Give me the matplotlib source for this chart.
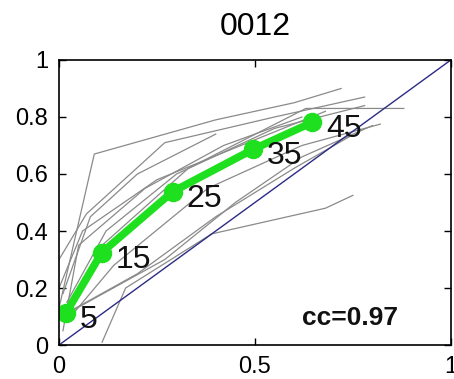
import matplotlib
matplotlib.use('Agg')
import matplotlib.pyplot as plt
import numpy as np

# mean curve (green) and its labels
mean_x = [0.018, 0.109, 0.29, 0.496, 0.646]
mean_y = [0.113, 0.324, 0.538, 0.687, 0.781]
mean_labels = ['5', '15', '25', '35', '45']

# individual curves (grey)
gray_x = [
    [0.00, 0.09, 0.40, 0.60, 0.72],
    [0.02, 0.11, 0.33, 0.63, 0.88],
    [0.03, 0.14, 0.38, 0.62, 0.82],
    [0.11, 0.17, 0.39, 0.68, 0.75],
    [0.01, 0.08, 0.20, 0.40],
    [0.00, 0.07, 0.27, 0.55, 0.78],
    [0.02, 0.12, 0.30, 0.55, 0.78],
    [0.02, 0.27, 0.45, 0.62, 0.80],
    [0.03, 0.20, 0.40, 0.60, 0.74],
    [0.01, 0.05, 0.22, 0.42, 0.62],
    [0.00, 0.06, 0.25, 0.50, 0.68],
]
gray_y = [
    [0.13, 0.67, 0.79, 0.85, 0.90],
    [0.12, 0.35, 0.62, 0.83, 0.83],
    [0.10, 0.28, 0.55, 0.70, 0.775],
    [0.01, 0.20, 0.39, 0.48, 0.525],
    [0.18, 0.45, 0.60, 0.74],
    [0.30, 0.46, 0.71, 0.80, 0.87],
    [0.15, 0.40, 0.60, 0.76, 0.84],
    [0.11, 0.30, 0.50, 0.66, 0.77],
    [0.12, 0.25, 0.45, 0.62, 0.73],
    [0.05, 0.35, 0.55, 0.70, 0.80],
    [0.20, 0.40, 0.58, 0.72, 0.82],
]

title = '0012'
cc_text = 'cc=0.97'
xticks = [0, 0.5, 1]
yticks = [0, 0.2, 0.4, 0.6, 0.8, 1]

plt.rcParams['font.family'] = ['Liberation Sans', 'DejaVu Sans']

fig = plt.figure(figsize=(4.54, 3.79), dpi=100)
ax = fig.add_axes([0.130, 0.0897, 0.863, 0.752])

for gx, gy in zip(gray_x, gray_y):
    ax.plot(gx, gy, color='#8a8a8a', lw=0.9)

ax.plot([0, 1], [0, 1], color='#2b2b85', lw=1.0)

ax.plot(mean_x, mean_y, color='#1ee01e', lw=5.5, marker='o', markersize=13,
        markeredgecolor='#1ee01e')

for x, y, lab in zip(mean_x, mean_y, mean_labels):
    ax.annotate(lab, (x, y), xytext=(10, -5), textcoords='offset points',
                ha='left', va='center', fontsize=23, color='#111111')

ax.text(0.865, 0.095, cc_text, transform=ax.transAxes, ha='right', va='center',
        fontsize=19, fontweight='bold', color='#111111')

ax.set_xlim(0, 1)
ax.set_ylim(0, 1)
ax.set_xticks(xticks)
ax.set_xticklabels(['0', '0.5', '1'])
ax.set_yticks(yticks)
ax.set_yticklabels(['0', '0.2', '0.4', '0.6', '0.8', '1'])
ax.tick_params(direction='in', length=5, width=1, top=True, right=True,
               labelsize=17, pad=8)
for s in ax.spines.values():
    s.set_linewidth(1.2)
ax.set_title(title, fontsize=23, pad=18)

fig.savefig('out.png', dpi=100)
